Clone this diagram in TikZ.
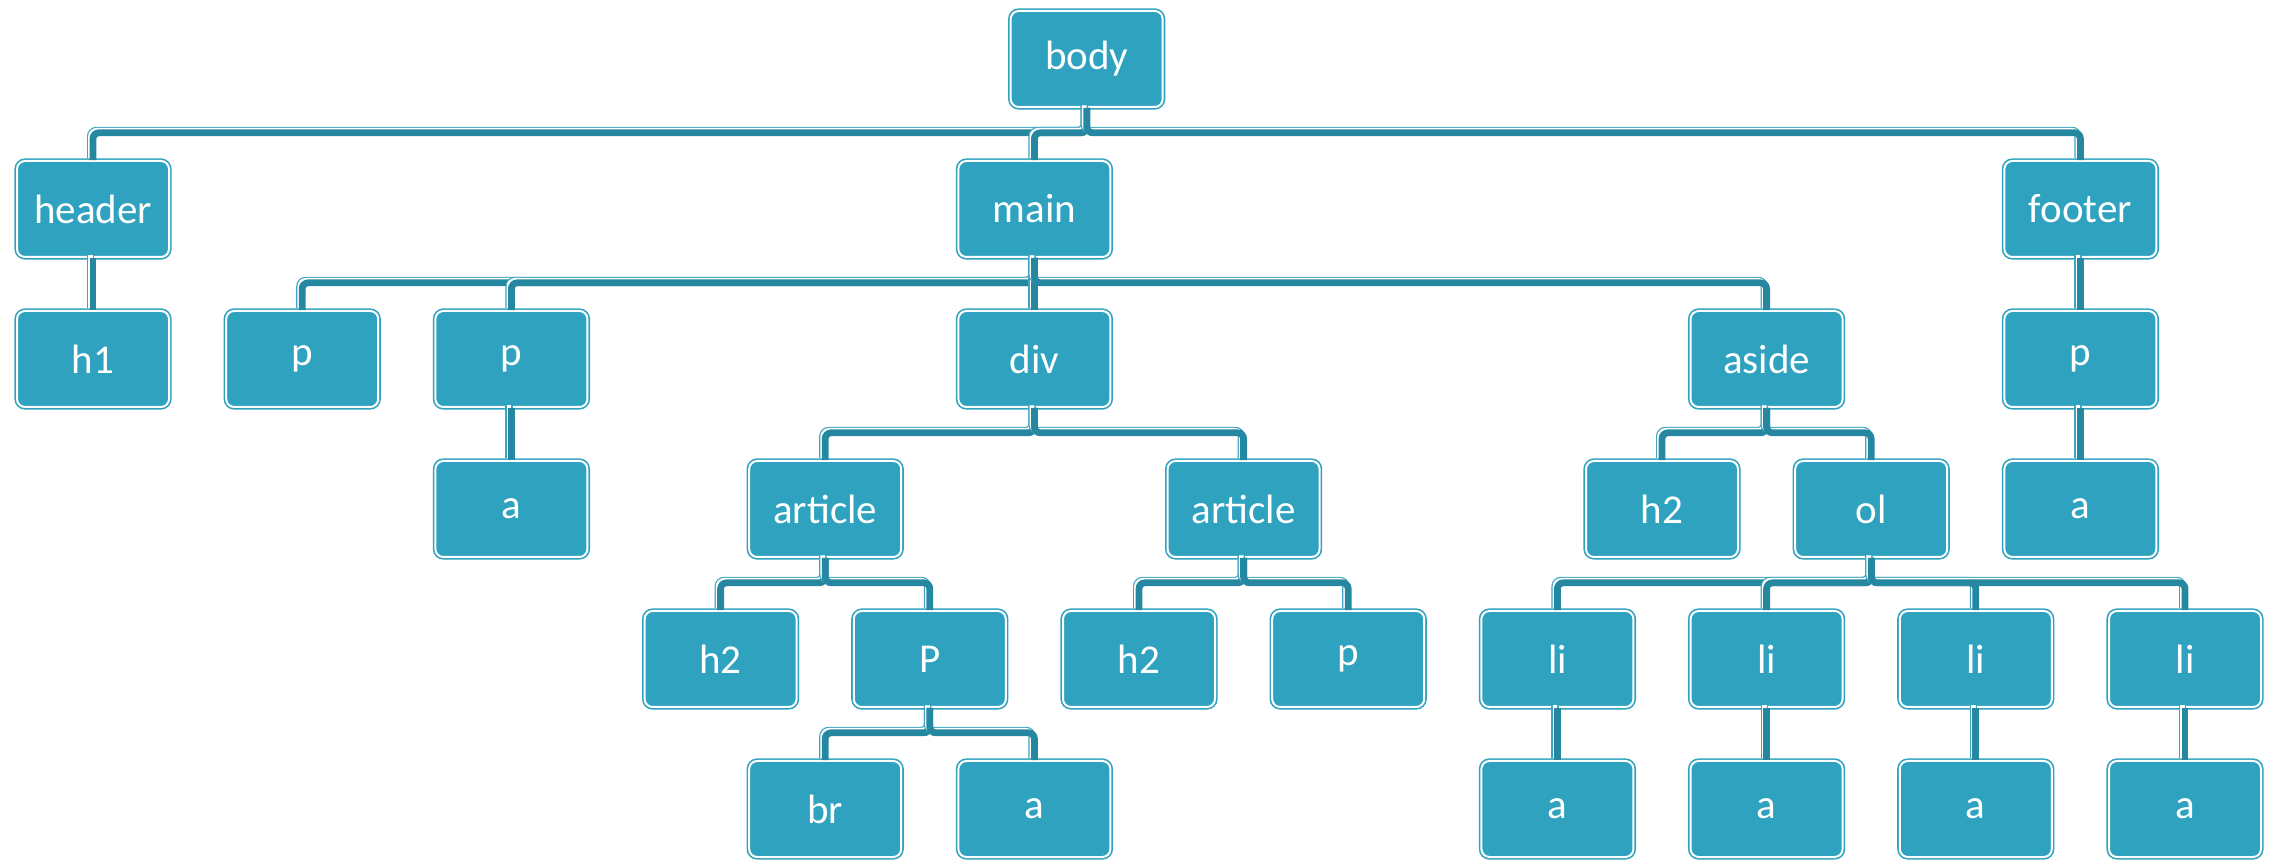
\documentclass[tikz,border=0pt]{standalone}
\usepackage{fontspec}
\setmainfont{Carlito}
\usepackage{tikz}

\definecolor{boxteal}{RGB}{46,162,191}
\definecolor{linedark}{RGB}{38,135,161}
\definecolor{lineedge}{RGB}{62,165,192}

\tikzset{
  tag/.style={draw=boxteal, double=white, double distance=1pt, line width=0.8pt,
    fill=boxteal, rounded corners=4pt, minimum width=76pt, minimum height=48pt,
    inner sep=0pt, text=white, font=\fontsize{20.5}{24}\selectfont},
  conn/.style={preaction={draw=lineedge, line width=3.6pt,
      transform canvas={shift={(-1.2pt,1.2pt)}}},
    preaction={draw=white, line width=2.4pt,
      transform canvas={shift={(-1.2pt,1.2pt)}}},
    draw=linedark, line width=3.4pt, rounded corners=3pt}
}

\begin{document}
\begin{tikzpicture}[x=0.5pt,y=-0.5pt]
\useasboundingbox (0,0) rectangle (2277,860);

% level 0 and 1
\node[tag] (body) at (1086.7,59) {body};
\node[tag] (header) at (93,209) {header};
\node[tag] (main) at (1034.4,209) {main};
\node[tag] (footer) at (2080.4,209) {footer};

% level 2
\node[tag] (hone) at (93,359) {h1};
\node[tag] (pone) at (302.2,359) {p};
\node[tag] (ptwo) at (511.4,359) {p};
\node[tag] (div) at (1034.4,359) {div};
\node[tag] (aside) at (1766.6,359) {aside};
\node[tag] (pfoot) at (2080.4,359) {p};

% level 3
\node[tag] (aptwo) at (511.4,509) {a};
\node[tag] (artone) at (825.2,509) {article};
\node[tag] (arttwo) at (1243.6,509) {article};
\node[tag] (hside) at (1662,509) {h2};
\node[tag] (ol) at (1871.2,509) {ol};
\node[tag] (afoot) at (2080.4,509) {a};

% level 4
\node[tag] (hartone) at (720.6,659) {h2};
\node[tag] (bigp) at (929.8,659) {P};
\node[tag] (harttwo) at (1139,659) {h2};
\node[tag] (parttwo) at (1348.2,659) {p};
\node[tag] (lione) at (1557.4,659) {li};
\node[tag] (litwo) at (1766.6,659) {li};
\node[tag] (lithree) at (1975.8,659) {li};
\node[tag] (lifour) at (2185,659) {li};

% level 5
\node[tag] (br) at (825.2,809) {br};
\node[tag] (abigp) at (1034.4,809) {a};
\node[tag] (alione) at (1557.4,809) {a};
\node[tag] (alitwo) at (1766.6,809) {a};
\node[tag] (alithree) at (1975.8,809) {a};
\node[tag] (alifour) at (2185,809) {a};

% connectors
\foreach \kid in {header,main,footer}
  \draw[conn] (body.south) -- ++(0,25) -| (\kid.north);
\draw[conn] (header.south) -- (hone.north);
\foreach \kid in {pone,ptwo,div,aside}
  \draw[conn] (main.south) -- ++(0,25) -| (\kid.north);
\draw[conn] (footer.south) -- (pfoot.north);
\draw[conn] (ptwo.south) -- (aptwo.north);
\foreach \kid in {artone,arttwo}
  \draw[conn] (div.south) -- ++(0,25) -| (\kid.north);
\foreach \kid in {hside,ol}
  \draw[conn] (aside.south) -- ++(0,25) -| (\kid.north);
\draw[conn] (pfoot.south) -- (afoot.north);
\foreach \kid in {hartone,bigp}
  \draw[conn] (artone.south) -- ++(0,25) -| (\kid.north);
\foreach \kid in {harttwo,parttwo}
  \draw[conn] (arttwo.south) -- ++(0,25) -| (\kid.north);
\foreach \kid in {lione,litwo,lithree,lifour}
  \draw[conn] (ol.south) -- ++(0,25) -| (\kid.north);
\foreach \kid in {br,abigp}
  \draw[conn] (bigp.south) -- ++(0,25) -| (\kid.north);
\draw[conn] (lione.south) -- (alione.north);
\draw[conn] (litwo.south) -- (alitwo.north);
\draw[conn] (lithree.south) -- (alithree.north);
\draw[conn] (lifour.south) -- (alifour.north);

\end{tikzpicture}
\end{document}
